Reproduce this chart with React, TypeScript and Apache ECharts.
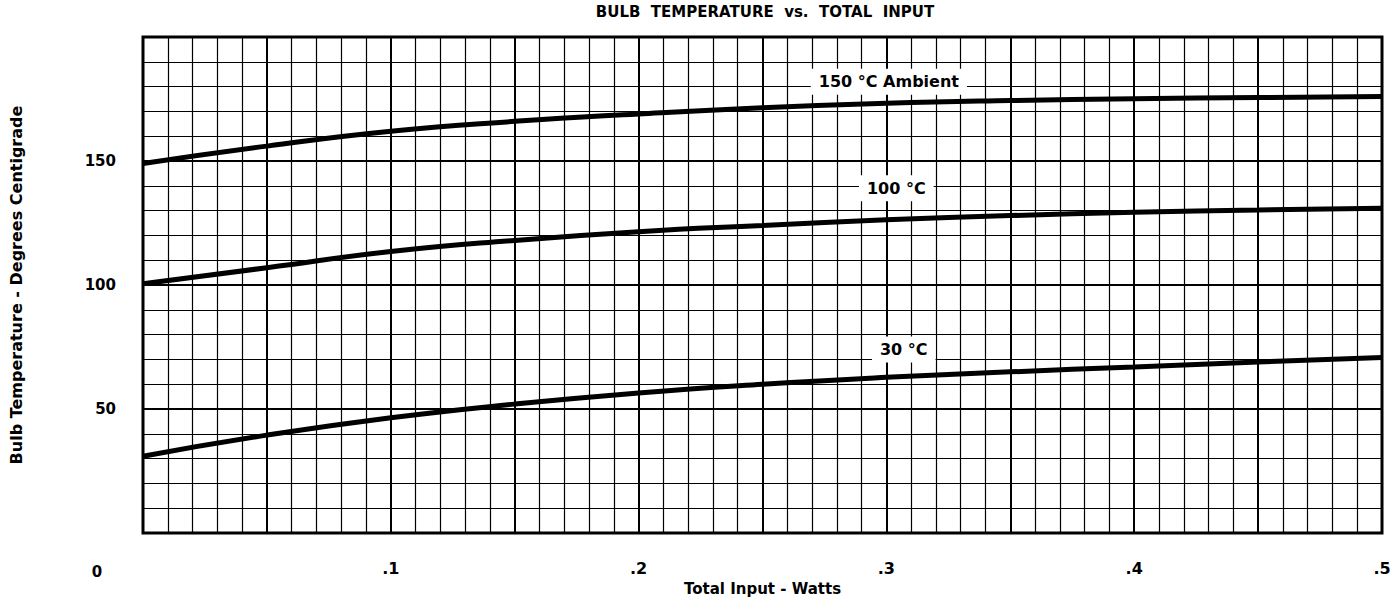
import React, { useEffect, useRef } from "react";
import * as echarts from "echarts";

const inputWatts = [0, 0.05, 0.1, 0.15, 0.2, 0.25, 0.3, 0.35, 0.4, 0.45, 0.5];
const ambient150 = [149, 156, 162, 166, 169, 171.5, 173.3, 174.4, 175.1, 175.6, 176];
const ambient100 = [100.5, 107, 113.5, 118, 121.5, 124, 126.3, 128, 129.3, 130.3, 131];
const ambient30 = [31, 39.5, 46.5, 52, 56.5, 60, 62.8, 65, 67, 69, 70.8];

const curveNames = ["150 °C Ambient", "100 °C", "30 °C"];
const labelPos = [
  [0.301, 182],
  [0.304, 139],
  [0.307, 74],
];
const yTickLabels = [50, 100, 150];
const originLabel = "0";

const FONT = "'DejaVu Sans', 'Open Sans', sans-serif";

export default function App() {
  const ref = useRef<HTMLDivElement>(null);
  useEffect(() => {
    if (!ref.current) return;
    const chart = echarts.init(ref.current, undefined, { renderer: "svg" });
    const series = [ambient150, ambient100, ambient30].map((vals, i) => ({
      type: "line",
      name: curveNames[i],
      data: inputWatts.map((x, j) => [x, vals[j]]),
      smooth: true,
      symbol: "none",
      lineStyle: { color: "#000", width: 5 },
      z: 3,
      markPoint: {
        symbol: "rect",
        symbolSize: 0,
        data: [{ coord: labelPos[i] }],
        label: {
          show: true,
          position: "inside",
          formatter: curveNames[i],
          color: "#000",
          fontFamily: FONT,
          fontWeight: "bold",
          fontSize: 16,
          backgroundColor: "#fff",
          padding: [5, 8, 5, 8],
        },
        z: 5,
      },
    }));
    chart.setOption({
      animation: false,
      title: {
        text: "BULB  TEMPERATURE  vs.  TOTAL  INPUT",
        left: 760,
        top: -1,
        textAlign: "center",
        textStyle: { fontFamily: FONT, fontWeight: "bold", fontSize: 15, color: "#000" },
      },
      grid: {
        left: 139,
        right: 16,
        top: 37,
        bottom: 63,
        show: true,
        borderColor: "#000",
        borderWidth: 3,
      },
      xAxis: {
        type: "value",
        min: 0,
        max: 0.5,
        interval: 0.05,
        name: "Total Input - Watts",
        nameLocation: "middle",
        nameGap: 45,
        nameTextStyle: { fontFamily: FONT, fontWeight: "bold", fontSize: 15, color: "#000" },
        axisLine: { show: false },
        axisTick: { show: false },
        axisLabel: {
          margin: 27,
          color: "#000",
          fontFamily: FONT,
          fontWeight: "bold",
          fontSize: 16,
          formatter: (v: number) => {
            const k = Math.round(v * 100);
            if (k === 0 || k % 10 !== 0) return "";
            return "." + String(k / 10);
          },
        },
        splitLine: { show: true, lineStyle: { color: "#000", width: 2 } },
        minorTick: { show: false, splitNumber: 5 },
        minorSplitLine: { show: true, lineStyle: { color: "#000", width: 1.2 } },
      },
      yAxis: {
        type: "value",
        min: 0,
        max: 200,
        interval: 50,
        name: "Bulb Temperature - Degrees Centigrade",
        nameLocation: "middle",
        nameGap: 119,
        nameTextStyle: { fontFamily: FONT, fontWeight: "bold", fontSize: 16, color: "#000" },
        axisLine: { show: false },
        axisTick: { show: false },
        axisLabel: {
          margin: 27,
          color: "#000",
          fontFamily: FONT,
          fontWeight: "bold",
          fontSize: 15,
          formatter: (v: number) => (yTickLabels.indexOf(Math.round(v)) >= 0 ? String(Math.round(v)) : ""),
        },
        splitLine: { show: true, lineStyle: { color: "#000", width: 2 } },
        minorTick: { show: false, splitNumber: 5 },
        minorSplitLine: { show: true, lineStyle: { color: "#000", width: 1.2 } },
      },
      graphic: [
        {
          type: "text",
          x: 97,
          y: 572,
          style: {
            text: originLabel,
            fill: "#000",
            font: "bold 15px " + FONT,
            textAlign: "center",
            textVerticalAlign: "middle",
          },
        },
      ],
      series,
    });
    return () => chart.dispose();
  }, []);
  return (
    <div
      ref={ref}
      style={{ position: "fixed", left: 0, top: 0, width: 1398, height: 601, background: "#fff" }}
    />
  );
}
